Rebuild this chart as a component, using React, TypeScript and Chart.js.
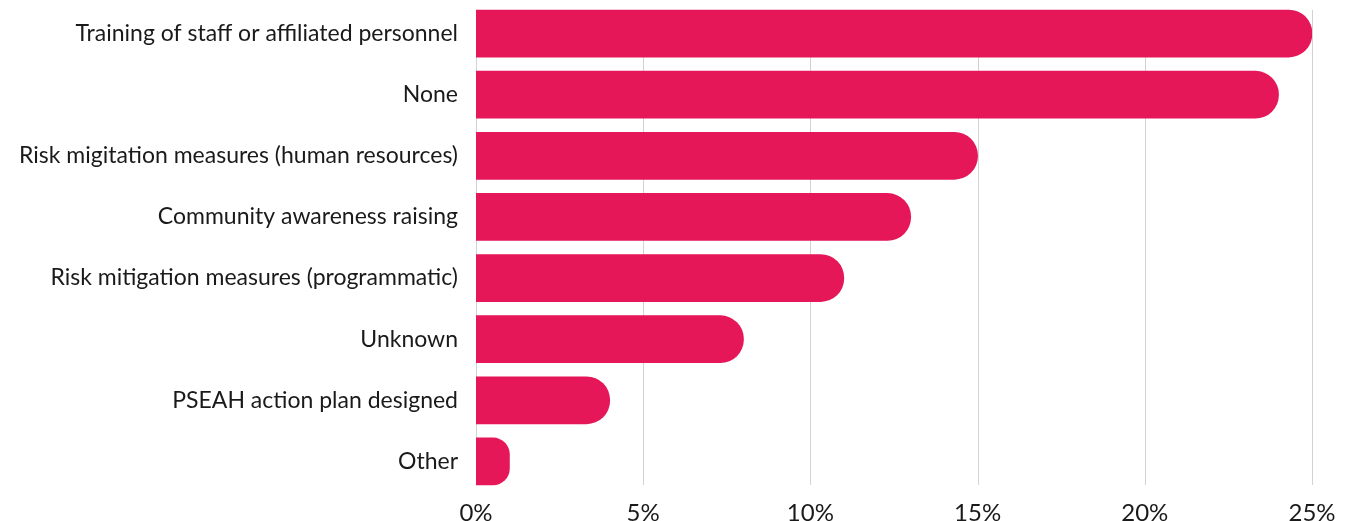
import React, { useEffect, useRef } from "react";
import { Chart, registerables } from "chart.js";

Chart.register(...registerables);

const categories = [
  "Training of staff or affiliated personnel",
  "None",
  "Risk migitation measures (human resources)",
  "Community awareness raising",
  "Risk mitigation measures (programmatic)",
  "Unknown",
  "PSEAH action plan designed",
  "Other",
];
const values = [25, 24, 15, 13, 11, 8, 4, 1];
const xTicks = [0, 5, 10, 15, 20, 25];

const FONT = "Lato, 'Open Sans', sans-serif";
const BAR = 47;

const gridPlugin = {
  id: "customGrid",
  beforeDatasetsDraw(chart: any) {
    const { ctx, scales } = chart;
    const x = scales.x;
    const y = scales.y;
    const top = y.getPixelForValue(0) - BAR / 2;
    const bottom = y.getPixelForValue(categories.length - 1) + BAR / 2;
    ctx.save();
    ctx.strokeStyle = "#d2d2d2";
    ctx.lineWidth = 1;
    xTicks.forEach((t) => {
      const px = Math.round(x.getPixelForValue(t)) + 0.5;
      ctx.beginPath();
      ctx.moveTo(px, top);
      ctx.lineTo(px, bottom);
      ctx.stroke();
    });
    ctx.restore();
  },
};

export default function App() {
  const ref = useRef<HTMLCanvasElement>(null);
  useEffect(() => {
    if (!ref.current) return;
    const chart = new Chart(ref.current, {
      type: "bar",
      data: {
        labels: categories,
        datasets: [
          {
            data: values,
            backgroundColor: "#E51759",
            borderWidth: 0,
            borderSkipped: false,
            barThickness: BAR,
            borderRadius: { topLeft: 0, bottomLeft: 0, topRight: BAR / 2, bottomRight: BAR / 2 },
          },
        ],
      },
      options: {
        indexAxis: "y",
        animation: false,
        responsive: true,
        maintainAspectRatio: false,
        layout: { padding: { left: 0, right: 41, top: 3, bottom: 0 } },
        plugins: { legend: { display: false }, tooltip: { enabled: false } },
        scales: {
          x: {
            min: 0,
            max: 25,
            afterBuildTicks: (axis: any) => {
              axis.ticks = xTicks.map((v) => ({ value: v }));
            },
            afterFit: (axis: any) => {
              axis.height = 29;
              axis.paddingLeft = 0;
              axis.paddingRight = 0;
            },
            grid: { display: false, drawTicks: false },
            border: { display: false },
            ticks: {
              padding: 7,
              color: "#1a1a1a",
              font: { family: FONT, size: 24 },
              callback: (v: any) => v + "%",
              maxRotation: 0,
            },
          },
          y: {
            afterFit: (axis: any) => {
              axis.width = 476;
              axis.paddingTop = 0;
              axis.paddingBottom = 0;
            },
            grid: { display: false, drawTicks: false },
            border: { display: false },
            ticks: {
              padding: 18,
              color: "#1a1a1a",
              font: { family: FONT, size: 23 },
            },
          },
        },
      },
      plugins: [gridPlugin],
    });
    return () => chart.destroy();
  }, []);
  return (
    <div style={{ position: "fixed", left: 0, top: 0, width: 1353, height: 521, background: "#fff" }}>
      <canvas ref={ref} />
    </div>
  );
}
